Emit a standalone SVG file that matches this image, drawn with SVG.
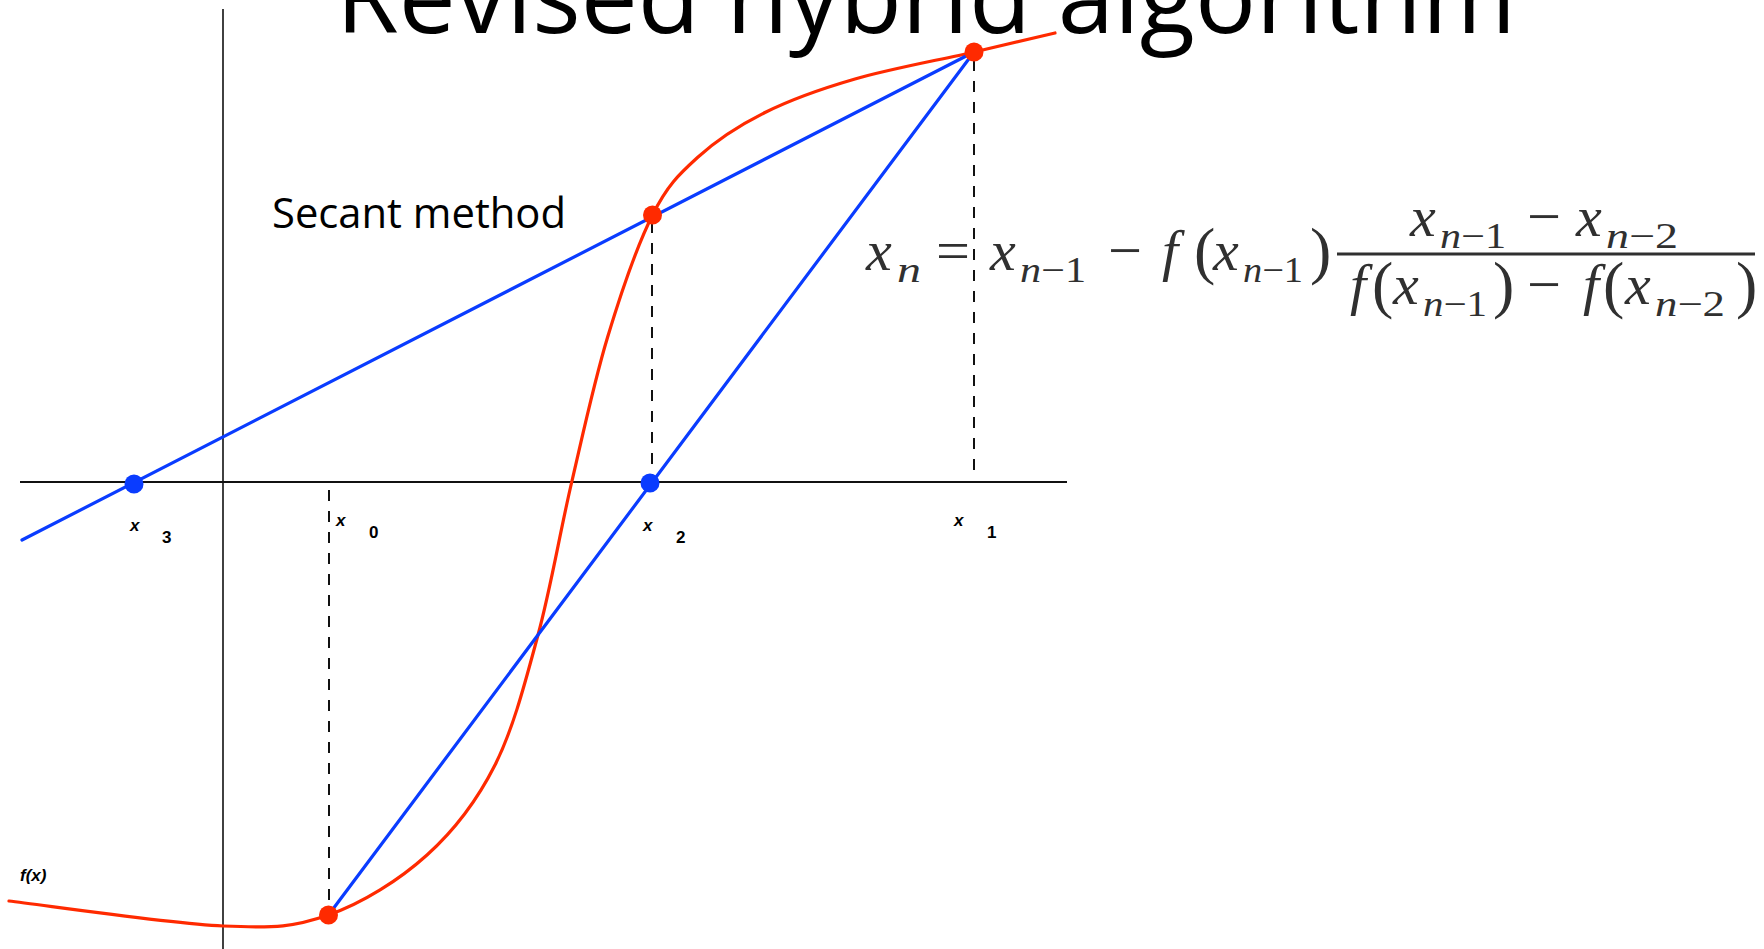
<svg xmlns="http://www.w3.org/2000/svg" width="1764" height="949" viewBox="0 0 1764 949">
<style>
.title{font-family:"Open Sans","Liberation Sans",sans-serif;fill:#000}
.lbl{font-family:"Liberation Sans",Arial,sans-serif;font-weight:bold;font-size:17px;fill:#000}
.it{font-style:italic}
.mi{font-style:italic}
.s{font-size:36px}
.axis{stroke:#111;fill:none}
.dash{stroke:#111;stroke-width:2;stroke-dasharray:11 10;fill:none}
.blue{stroke:#0a3cff;stroke-width:3.2;fill:none;stroke-linecap:round}
.red{stroke:#ff2a00;stroke-width:3.2;fill:none;stroke-linecap:round}
.rdot{fill:#ff2a00}
.bdot{fill:#0a3cff}
</style>
<rect width="1764" height="949" fill="#fff"/>
<g id="title"><text class="title" x="336" y="33" font-size="102" textLength="1180" lengthAdjust="spacingAndGlyphs">Revised hybrid algorithm</text></g>
<g id="axes">
<line class="axis" x1="223" y1="9" x2="223" y2="949" stroke-width="1.6"/>
<line class="axis" x1="20" y1="482" x2="1067" y2="482" stroke-width="2.2"/>
</g>
<g id="connectors">
<line class="dash" x1="329" y1="490" x2="329" y2="906"/>
<line class="dash" x1="652" y1="222" x2="652" y2="482"/>
<line class="dash" x1="974" y1="60" x2="974" y2="478"/>
<path id="fcurve" class="red" d="M9 901 C44.7 905.2 169.75 923.7 223 926 C276.25 928.3 294.5 926.8 328.5 915 C362.5 903.2 399.25 880 427 855 C454.75 830 476.5 801.7 495 765 C513.5 728.3 525.25 682 538 635 C550.75 588 559.9 532.6 571.5 483 C583.1 433.4 594 382.2 607.5 337.5 C621 292.8 637.5 245 652.5 215 C667.5 185 678.75 174.6 697.5 157.5 C716.25 140.4 738.75 125.6 765 112.5 C791.25 99.4 820.2 89.1 855 79 C889.8 68.9 940.7 59.7 974 52 C1007.3 44.3 1041.5 36.2 1055 33"/>
<line class="blue" x1="22" y1="540" x2="974" y2="52"/>
<line class="blue" x1="328.5" y1="915" x2="974" y2="52"/>
</g>
<g id="p-x3"><circle class="bdot" cx="134" cy="484" r="9.5"/><text class="lbl it" x="130" y="531">x</text><text class="lbl" x="162" y="543">3</text></g>
<g id="p-x2"><circle class="bdot" cx="650" cy="483" r="9.5"/><text class="lbl it" x="643" y="531">x</text><text class="lbl" x="676" y="543">2</text></g>
<g id="p-x0"><circle class="rdot" cx="328.5" cy="915" r="9.5"/><text class="lbl it" x="336" y="526">x</text><text class="lbl" x="369" y="538">0</text></g>
<g id="p-f1"><circle class="rdot" cx="652.5" cy="215" r="9.5"/></g>
<g id="p-x1"><circle class="rdot" cx="974" cy="52" r="9.5"/><text class="lbl it" x="954" y="526">x</text><text class="lbl" x="987" y="538">1</text></g>
<g id="fx-label"><text class="lbl it" x="20" y="881" font-size="16">f(x)</text></g>
<g id="secant-label"><text class="title" x="272" y="228" font-size="42" textLength="294" lengthAdjust="spacingAndGlyphs">Secant method</text></g>
<g id="formula" font-family="Liberation Serif, serif" font-size="58" fill="#303030">
<text class="mi" x="866" y="270">x</text><text class="mi s" x="897" y="282" textLength="24" lengthAdjust="spacingAndGlyphs">n</text>
<text x="936" y="270" textLength="34" lengthAdjust="spacingAndGlyphs">=</text>
<text class="mi" x="990" y="270">x</text><text class="s" x="1020" y="282" textLength="66" lengthAdjust="spacingAndGlyphs"><tspan class="mi">n</tspan>−1</text>
<text x="1108" y="270" textLength="34" lengthAdjust="spacingAndGlyphs">−</text>
<text class="mi" x="1162" y="270">f</text><text x="1194" y="272" font-size="64">(</text>
<text class="mi" x="1213" y="270">x</text><text class="s" x="1243" y="282" textLength="60" lengthAdjust="spacingAndGlyphs"><tspan class="mi">n</tspan>−1</text>
<text x="1310" y="272" font-size="64">)</text>
<line x1="1337" y1="254" x2="1755" y2="254" stroke="#303030" stroke-width="3"/>
<text class="mi" x="1410" y="236">x</text><text class="s" x="1440" y="248" textLength="66" lengthAdjust="spacingAndGlyphs"><tspan class="mi">n</tspan>−1</text>
<text x="1527" y="236" textLength="34" lengthAdjust="spacingAndGlyphs">−</text>
<text class="mi" x="1576" y="236">x</text><text class="s" x="1606" y="248" textLength="72" lengthAdjust="spacingAndGlyphs"><tspan class="mi">n</tspan>−2</text>
<text class="mi" x="1350" y="304">f</text><text x="1372" y="306" font-size="64">(</text>
<text class="mi" x="1393" y="304">x</text><text class="s" x="1423" y="316" textLength="64" lengthAdjust="spacingAndGlyphs"><tspan class="mi">n</tspan>−1</text>
<text x="1493" y="306" font-size="64">)</text>
<text x="1527" y="304" textLength="34" lengthAdjust="spacingAndGlyphs">−</text>
<text class="mi" x="1583" y="304">f</text><text x="1603" y="306" font-size="64">(</text>
<text class="mi" x="1625" y="304">x</text><text class="s" x="1655" y="316" textLength="70" lengthAdjust="spacingAndGlyphs"><tspan class="mi">n</tspan>−2</text>
<text x="1736" y="306" font-size="64">)</text>
</g>
</svg>
